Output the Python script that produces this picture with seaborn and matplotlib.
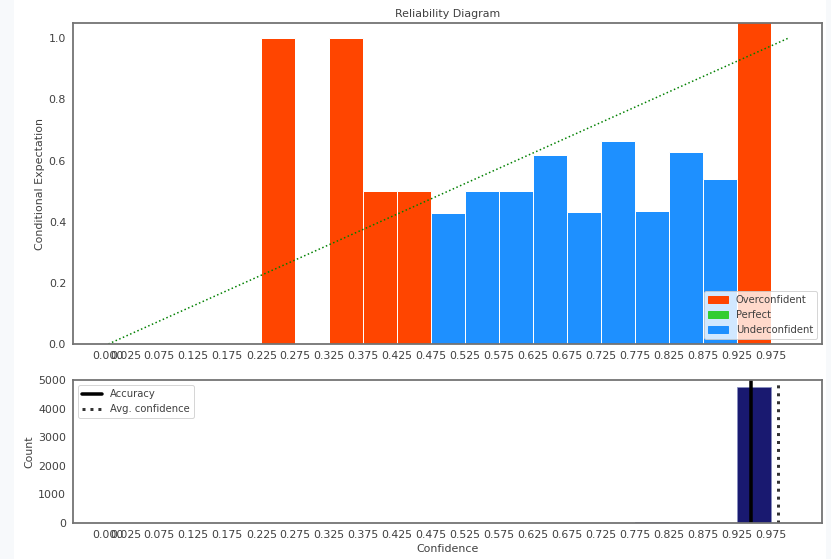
import numpy as np
import pandas as pd
import matplotlib
matplotlib.use("Agg")
import matplotlib.pyplot as plt
from matplotlib.patches import Patch, Rectangle
import seaborn as sns

# Bin centres of the 20 confidence bins (also the tick labels)
bin_centers = [0.025, 0.075, 0.125, 0.175, 0.225, 0.275, 0.325, 0.375, 0.425, 0.475,
               0.525, 0.575, 0.625, 0.675, 0.725, 0.775, 0.825, 0.875, 0.925, 0.975]
# Conditional expectation (accuracy) per bin; 0 for empty bins
accuracy = [0.0, 0.0, 0.0, 0.0, 1.0, 0.0, 1.0, 0.5, 0.5, 0.43,
            0.5, 0.5, 0.617, 0.432, 0.664, 0.436, 0.627, 0.54, 1.1, 0.0]
# Calibration status per bin
status = ["", "", "", "", "Overconfident", "", "Overconfident", "Overconfident", "Overconfident", "Underconfident",
          "Underconfident", "Underconfident", "Underconfident", "Underconfident", "Underconfident",
          "Underconfident", "Underconfident", "Underconfident", "Overconfident", ""]
# Number of samples per bin
counts = [0, 0, 0, 0, 1, 0, 1, 2, 2, 7,
          8, 6, 8, 9, 6, 40, 8, 7, 4745, 0]
xtick_values = [0.0] + bin_centers
overall_accuracy = 0.945
avg_confidence = 0.985

colors = {"Overconfident": "orangered", "Perfect": "limegreen", "Underconfident": "dodgerblue"}

sns.set_style("white")
plt.rcParams["font.family"] = ["DejaVu Sans"]
plt.rcParams["axes.edgecolor"] = "0.45"
plt.rcParams["axes.linewidth"] = 1.8
plt.rcParams["text.color"] = "0.25"
plt.rcParams["axes.labelcolor"] = "0.25"
plt.rcParams["xtick.color"] = "0.25"
plt.rcParams["ytick.color"] = "0.25"

df = pd.DataFrame({"center": bin_centers, "acc": accuracy, "status": status, "count": counts})
# bars span [centre, centre + width]
width = 0.05
df["mid"] = df["center"] + width / 2
bin_range = (bin_centers[0], bin_centers[-1] + width)

fig = plt.figure(figsize=(831 / 72, 559 / 72), dpi=72)
fig.patches.append(Rectangle((0, 0), 14 / 831, 1, transform=fig.transFigure,
                             facecolor="#f7f9fb", edgecolor="none", zorder=-1))
fig.patches.append(Rectangle((826 / 831, 0), 5 / 831, 1, transform=fig.transFigure,
                             facecolor="#f7f9fb", edgecolor="none", zorder=-1))
ax1 = fig.add_axes([73 / 831, 1 - 344 / 559, 749 / 831, 321 / 559])
ax2 = fig.add_axes([73 / 831, 1 - 523 / 559, 749 / 831, 143 / 559])

for name in ["Overconfident", "Underconfident"]:
    sub = df[df["status"] == name]
    sns.histplot(data=sub, x="mid", weights="acc", binwidth=width, binrange=bin_range, ax=ax1,
                 color=colors[name], alpha=1, edgecolor="white", linewidth=1)

ax1.plot([0, 1], [0, 1], linestyle=":", color="green", linewidth=1.5)
ax1.set_xlim(-0.052, 1.05)
ax1.set_ylim(0, 1.05)
ax1.set_xticks(xtick_values)
ax1.set_xticklabels([f"{v:.3f}" for v in xtick_values])
ax1.set_yticks([0.0, 0.2, 0.4, 0.6, 0.8, 1.0])
ax1.set_xlabel("")
ax1.set_ylabel("Conditional Expectation", fontsize=11)
ax1.set_title("Reliability Diagram", fontsize=11)
handles = [Patch(color=colors[k], label=k) for k in ["Overconfident", "Perfect", "Underconfident"]]
ax1.legend(handles=handles, loc="lower right", fontsize=10)

sns.histplot(data=df, x="mid", weights="count", binwidth=width, binrange=bin_range, ax=ax2,
             color="midnightblue", alpha=1, edgecolor="#8890c0", linewidth=0.8)
ax2.axvline(overall_accuracy, color="black", linewidth=3.5, label="Accuracy")
ax2.axvline(avg_confidence, color="#333333", linestyle=":", linewidth=3, label="Avg. confidence")
ax2.set_xlim(-0.052, 1.05)
ax2.set_ylim(0, 5000)
ax2.set_xticks(xtick_values)
ax2.set_xticklabels([f"{v:.3f}" for v in xtick_values])
ax2.set_yticks([0, 1000, 2000, 3000, 4000, 5000])
ax2.set_xlabel("Confidence", fontsize=11)
ax2.set_ylabel("Count", fontsize=11)
ax2.legend(loc="upper left", fontsize=10)

for ax in (ax1, ax2):
    ax.tick_params(labelsize=11)

fig.savefig("out.png", dpi=72)
